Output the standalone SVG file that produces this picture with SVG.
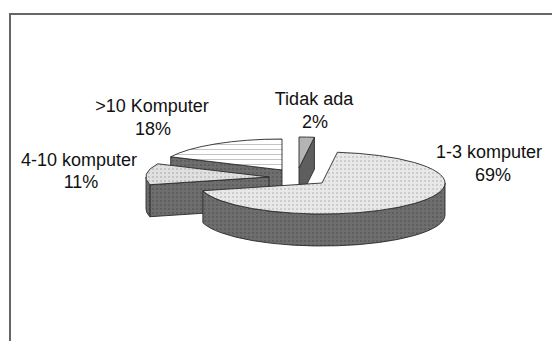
<svg xmlns="http://www.w3.org/2000/svg" width="552" height="341" viewBox="0 0 552 341">
<style>
.lbl{font-family:"Liberation Sans",Arial,sans-serif;font-size:18px;fill:#111;text-anchor:middle}
.edge{stroke:#2a2a2a;stroke-width:0.9;stroke-linejoin:round}
.side{fill:url(#dk)}
.frame{stroke:#666;stroke-width:2;fill:none}
</style>
<defs>
<pattern id="dots" width="4" height="4" patternUnits="userSpaceOnUse"><rect width="4" height="4" fill="#e8e8e8"/><rect width="2" height="2" fill="#cdcdcd"/></pattern>
<pattern id="dots2" width="4" height="4" patternUnits="userSpaceOnUse"><rect width="4" height="4" fill="#e0e0e0"/><rect width="2" height="2" fill="#c4c4c4"/></pattern>
<pattern id="dk" width="4" height="4" patternUnits="userSpaceOnUse"><rect width="4" height="4" fill="#6e6e6e"/><rect width="2" height="2" fill="#5e5e5e"/></pattern>
<pattern id="hl" width="5" height="5" patternUnits="userSpaceOnUse"><rect width="5" height="5" fill="#fff"/><rect y="4" width="5" height="1" fill="#c4c4c4"/></pattern>
</defs>
<rect width="552" height="341" fill="#fff"/>
<path class="frame" d="M10,341 L10,14 L552,14"/>
<g id="connectors"/>
<g id="slice-gt10">
<path class="side edge" d="M282,170 L170.71,156.8 L170.71,188.8 L282,202 Z"/>
<path class="edge" fill="url(#hl)" d="M282,170 L170.71,156.8 A123,31 0 0 1 282,139 Z"/>
<text class="lbl" x="152" y="112">&gt;10 Komputer</text>
<text class="lbl" x="153" y="135">18%</text>
</g>
<g id="slice-tidak">
<path class="edge" fill="#5e5e5e" d="M299,168 L314.42,137.25 L314.42,169.25 L299,200 Z"/>
<path class="edge" fill="#b4b4b4" d="M299,168 L299,137 A123,31 0 0 1 314.42,137.25 Z"/>
<text class="lbl" x="314" y="105">Tidak ada</text>
<text class="lbl" x="315" y="128">2%</text>
</g>
<g id="slice-4-10">
<path class="side edge" d="M269,177 L149.86,184.71 L149.86,216.71 L269,209 Z"/>
<path class="side edge" d="M149.86,184.71 A123,31 0 0 1 146,177 L146,209 A123,31 0 0 0 149.86,216.71 Z"/>
<path class="edge" fill="url(#dots2)" d="M269,177 L149.86,184.71 A123,31 0 0 1 157.71,163.8 Z"/>
<text class="lbl" x="79" y="166">4-10 komputer</text>
<text class="lbl" x="81" y="188">11%</text>
</g>
<g id="slice-1-3">
<path class="side edge" d="M445,183 A123,31 0 0 1 202.86,190.71 L202.86,222.71 A123,31 0 0 0 445,215 Z"/>
<path class="edge" fill="url(#dots)" d="M322,183 L337.42,152.25 A123,31 0 1 1 202.86,190.71 Z"/>
<text class="lbl" x="489" y="158">1-3 komputer</text>
<text class="lbl" x="493" y="181">69%</text>
</g>
</svg>
